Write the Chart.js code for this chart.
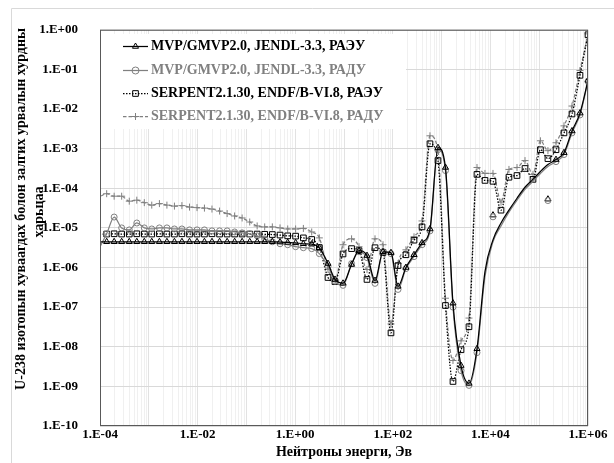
<!DOCTYPE html>
<html>
<head>
<meta charset="utf-8">
<script src="https://cdn.jsdelivr.net/npm/chart.js@4.4.1/dist/chart.umd.min.js"></script>
<style>
html, body { margin: 0; padding: 0; background: #fff; }
</style>
</head>
<body>
<canvas id="rates" width="614" height="463"></canvas>
<script>
// neutron energy, eV (first point sits just left of the axis so the lines start at the edge)
var energy = [8.5e-5, 1.37e-4, 1.95e-4, 2.78e-4, 3.98e-4, 5.68e-4, 8.09e-4, 1.15e-3, 1.65e-3, 2.35e-3,
  3.35e-3, 4.77e-3, 6.82e-3, 9.73e-3, 1.38e-2, 1.97e-2, 2.82e-2, 4.03e-2, 5.73e-2, 8.17e-2,
  0.117, 0.166, 0.237, 0.340, 0.489, 0.702, 1.02, 1.47, 2.18, 3.12,
  4.70, 6.54, 9.55, 14.3, 20.3, 29.6, 43.2, 63.0, 91.8, 128,
  186, 272, 397, 578, 843, 1.20e3, 1.71e3, 2.50e3, 3.64e3, 5.31e3,
  7.74e3, 1.13e4, 1.65e4, 2.40e4, 3.51e4, 5.12e4, 7.46e4, 1.06e5, 1.51e5, 2.21e5,
  3.22e5, 4.70e5, 6.85e5, 1.0e6];

// MVP/GMVP2.0, JENDL-3.3, РАЭУ
var mvpRaeu = [4.47e-6, 4.47e-6, 4.47e-6, 4.47e-6, 4.47e-6, 4.47e-6, 4.47e-6, 4.47e-6, 4.47e-6, 4.47e-6,
  4.47e-6, 4.47e-6, 4.47e-6, 4.47e-6, 4.47e-6, 4.47e-6, 4.47e-6, 4.47e-6, 4.47e-6, 4.47e-6,
  4.47e-6, 4.47e-6, 4.47e-6, 4.47e-6, 4.4e-6, 4.3e-6, 4.2e-6, 3.98e-6, 3.9e-6, 3.16e-6,
  1.26e-6, 5.0e-7, 4.0e-7, 1.19e-6, 2.66e-6, 2.0e-6, 4.7e-7, 2.5e-6, 2.37e-6, 3.35e-7,
  1.0e-6, 2.1e-6, 4.2e-6, 9.4e-6, 1.06e-3, 3.35e-4, 1.26e-7, 3.35e-9, 1.19e-9, 8.9e-9,
  7.9e-7, 5.0e-6, 1.33e-5, 2.8e-5, 5.6e-5, 1.06e-4, 1.68e-4, 2.66e-4, 3.98e-4, 5.3e-4,
  7.9e-4, 2.8e-3, 7.9e-3, 5.3e-2];

// MVP/GMVP2.0, JENDL-3.3, РАДУ
var mvpRadu = [2.3e-6, 7.08e-6, 1.88e-5, 1.0e-5, 8.9e-6, 1.33e-5, 1.0e-5, 9.4e-6, 1.0e-5, 1.0e-5,
  9.4e-6, 9.4e-6, 8.9e-6, 8.9e-6, 8.9e-6, 8.4e-6, 8.4e-6, 8.4e-6, 7.9e-6, 7.5e-6,
  7.08e-6, 6.3e-6, 5.3e-6, 4.47e-6, 3.98e-6, 3.76e-6, 3.35e-6, 3.16e-6, 2.99e-6, 2.24e-6,
  1.06e-6, 4.5e-7, 3.55e-7, 1.26e-6, 2.5e-6, 1.78e-6, 3.98e-7, 2.5e-6, 2.24e-6, 2.8e-7,
  9.4e-7, 1.88e-6, 3.76e-6, 8.4e-6, 9.4e-4, 2.8e-4, 1.0e-7, 2.5e-9, 1.06e-9, 7.1e-9,
  6.0e-7, 4.47e-6, 1.12e-5, 2.5e-5, 5.0e-5, 9.4e-5, 1.5e-4, 2.37e-4, 3.55e-4, 4.7e-4,
  7.1e-4, 2.5e-3, 7.1e-3, 5.0e-2];

// SERPENT2.1.30, ENDF/B-VI.8, РАЭУ
var serpRaeu = [7.0e-6, 7.0e-6, 7.1e-6, 7.0e-6, 7.0e-6, 7.1e-6, 7.0e-6, 7.0e-6, 7.1e-6, 7.0e-6,
  7.0e-6, 7.1e-6, 7.0e-6, 7.0e-6, 7.0e-6, 7.1e-6, 7.0e-6, 7.0e-6, 7.0e-6, 7.0e-6,
  7.0e-6, 7.0e-6, 6.9e-6, 6.8e-6, 6.6e-6, 6.3e-6, 6.2e-6, 5.6e-6, 5.1e-6, 3.2e-6,
  5.6e-7, 4.4e-7, 2.2e-6, 3.0e-6, 2.66e-6, 5.0e-7, 3.16e-6, 2.4e-6, 2.24e-8, 1.12e-6,
  2.1e-6, 4.9e-6, 1.06e-5, 1.33e-3, 5.0e-4, 1.1e-7, 1.33e-9, 8.4e-9, 3.2e-8, 2.24e-4,
  1.58e-4, 1.5e-4, 2.8e-5, 1.9e-4, 2.1e-4, 3.16e-4, 1.68e-4, 9.4e-4, 5.6e-4, 9.4e-4,
  2.5e-3, 7.5e-3, 7.1e-2, 0.75];

// SERPENT2.1.30, ENDF/B-VI.8, РАДУ
var serpRadu = [5.4e-5, 7.29e-5, 6.31e-5, 6.31e-5, 4.73e-5, 5.01e-5, 4.34e-5, 3.76e-5, 4.10e-5, 3.76e-5,
  3.55e-5, 3.65e-5, 3.35e-5, 3.25e-5, 3.16e-5, 2.99e-5, 2.66e-5, 2.30e-5, 2.0e-5, 1.78e-5,
  1.41e-5, 1.12e-5, 1.06e-5, 1.06e-5, 1.0e-5, 9.4e-6, 9.4e-6, 9.7e-6, 7.9e-6, 5.6e-6,
  8.9e-7, 4.5e-7, 3.76e-6, 5.3e-6, 3.35e-6, 8.9e-7, 5.3e-6, 3.76e-6, 3.76e-8, 1.26e-6,
  2.8e-6, 5.96e-6, 1.5e-5, 2.11e-3, 8.9e-4, 1.68e-7, 4.5e-9, 1.41e-8, 5.3e-8, 3.35e-4,
  2.37e-4, 2.37e-4, 4.47e-5, 2.99e-4, 3.35e-4, 5.0e-4, 2.24e-4, 1.58e-3, 8.9e-4, 1.41e-3,
  3.76e-3, 1.19e-2, 9.4e-2, 0.79];

// stray MVP points that sit off the curve
var strayEnergy = [1.13e4, 1.51e5];
var strayRaeu = [2.1e-5, 5.3e-5];
var strayRadu = [1.9e-5, 4.9e-5];

var seriesNames = ["MVP/GMVP2.0, JENDL-3.3, РАЭУ", "MVP/GMVP2.0, JENDL-3.3, РАДУ",
  "SERPENT2.1.30, ENDF/B-VI.8, РАЭУ", "SERPENT2.1.30, ENDF/B-VI.8, РАДУ"];

var xLabelValues = [1e-4, 1e-2, 1e0, 1e2, 1e4, 1e6];
var xTickLabels = ["1.E-04", "1.E-02", "1.E+00", "1.E+02", "1.E+04", "1.E+06"];
var yTickValues = [1e-10, 1e-9, 1e-8, 1e-7, 1e-6, 1e-5, 1e-4, 1e-3, 1e-2, 1e-1, 1e0];
var yTickLabels = ["1.E-10", "1.E-09", "1.E-08", "1.E-07", "1.E-06", "1.E-05", "1.E-04", "1.E-03", "1.E-02", "1.E-01", "1.E+00"];

var xTitle = "Нейтроны энерги, Эв";
var yTitle = ["U-238 изотопын хуваагдах болон залгих урвалын хурдны", "харьцаа"];

// minor grid for the energy axis: 1..9 in every decade
var xGrid = [];
for (var n = -4; n <= 5; n++) {
  for (var d = 1; d <= 9; d++) xGrid.push(Number(d + "e" + n));
}
xGrid.push(1e6);

function pts(xs, ys) {
  return xs.map(function (e, i) { return {x: e, y: ys[i]}; });
}
function sameTick(a, b) {
  return Math.abs(Math.log10(a) - Math.log10(b)) < 1e-6;
}
// the MVP curves carry no markers in the smooth part between ~6 keV and ~200 keV
function mvpRadius(c) {
  var e = energy[c.dataIndex];
  return (e > 6e3 && e < 2e5) ? 0 : 3.5;
}

var FONT = "'Liberation Serif', 'Times New Roman', serif";
var BLACK = "#000000";
var GRAY = "#808080";
var clear = "rgba(0,0,0,0)";

function marker(ctx, style, r, x, y) {
  ctx.beginPath();
  if (style === "triangle") {
    ctx.moveTo(x, y - r);
    ctx.lineTo(x + 0.866 * r, y + 0.5 * r);
    ctx.lineTo(x - 0.866 * r, y + 0.5 * r);
    ctx.closePath();
  } else if (style === "rect") {
    var s = Math.SQRT1_2 * r;
    ctx.rect(x - s, y - s, 2 * s, 2 * s);
  } else if (style === "cross") {
    ctx.moveTo(x - r, y); ctx.lineTo(x + r, y);
    ctx.moveTo(x, y - r); ctx.lineTo(x, y + r);
  } else {
    ctx.arc(x, y, r, 0, Math.PI * 2);
  }
  ctx.stroke();
}

var decor = {
  id: "decor",
  beforeDraw: function (chart) {
    var ctx = chart.ctx;
    ctx.save();
    ctx.strokeStyle = "#d9d9d9";
    ctx.lineWidth = 1;
    ctx.beginPath();
    ctx.moveTo(11.5, 463); ctx.lineTo(11.5, 8.5); ctx.lineTo(614, 8.5);
    ctx.stroke();
    // y axis title
    ctx.fillStyle = BLACK;
    ctx.font = "bold 14px " + FONT;
    ctx.textAlign = "center";
    ctx.textBaseline = "middle";
    ctx.translate(21, 209);
    ctx.rotate(-Math.PI / 2);
    ctx.fillText(yTitle[0], 0, 0);
    ctx.fillText(yTitle[1], -3, 18);
    ctx.restore();
  },
  afterDatasetsDraw: function (chart) {
    var ctx = chart.ctx, a = chart.chartArea;
    ctx.save();
    // legend
    ctx.fillStyle = "#ffffff";
    ctx.fillRect(a.left + 1, 34, 406 - a.left - 1, 95);
    ctx.font = "bold 14px " + FONT;
    ctx.textBaseline = "middle";
    ctx.textAlign = "left";
    var rows = [46, 70, 93, 116];
    for (var i = 0; i < 4; i++) {
      var ds = chart.data.datasets[i];
      var y = rows[i] + 0.5;
      ctx.strokeStyle = ds.borderColor;
      ctx.lineWidth = ds.borderWidth;
      ctx.setLineDash(ds.borderDash || []);
      ctx.beginPath();
      ctx.moveTo(123, y); ctx.lineTo(148, y);
      ctx.stroke();
      ctx.setLineDash([]);
      ctx.lineWidth = 1;
      marker(ctx, ds.pointStyle, i === 2 ? 4 : 3.5, 135.5, y);
      ctx.fillStyle = ds.borderColor;
      ctx.fillText(seriesNames[i], 151, y);
    }
    // plot frame
    ctx.strokeStyle = "#595959";
    ctx.lineWidth = 1;
    ctx.strokeRect(a.left + 0.5, a.top + 0.5, a.right - a.left - 1, a.bottom - a.top - 1);
    ctx.restore();
  }
};

var common = {
  borderWidth: 1.25,
  pointBorderWidth: 1,
  pointBackgroundColor: clear,
  backgroundColor: clear,
  fill: false,
  cubicInterpolationMode: "monotone",
  clip: 0
};

var rateChart = new Chart("rates", {
  type: "line",
  data: {
    datasets: [
      Object.assign({}, common, {
        label: seriesNames[0], data: pts(energy, mvpRaeu),
        borderColor: BLACK, pointBorderColor: BLACK, pointStyle: "triangle", pointRadius: mvpRadius
      }),
      Object.assign({}, common, {
        label: seriesNames[1], data: pts(energy, mvpRadu),
        borderColor: GRAY, pointBorderColor: GRAY, pointStyle: "circle", pointRadius: function (c) { return mvpRadius(c) ? 3 : 0; }
      }),
      Object.assign({}, common, {
        label: seriesNames[2], data: pts(energy, serpRaeu),
        borderColor: BLACK, pointBorderColor: BLACK, pointStyle: "rect", pointRadius: 4, borderDash: [1.5, 1.5]
      }),
      Object.assign({}, common, {
        label: seriesNames[3], data: pts(energy, serpRadu),
        borderColor: GRAY, pointBorderColor: GRAY, pointStyle: "cross", pointRadius: 3.5, borderDash: [3.5, 2]
      }),
      Object.assign({}, common, {
        label: "", data: pts(strayEnergy, strayRadu), showLine: false,
        borderColor: GRAY, pointBorderColor: GRAY, pointStyle: "circle", pointRadius: 3
      }),
      Object.assign({}, common, {
        label: "", data: pts(strayEnergy, strayRaeu), showLine: false,
        borderColor: BLACK, pointBorderColor: BLACK, pointStyle: "triangle", pointRadius: 3.5
      })
    ]
  },
  options: {
    responsive: false,
    animation: false,
    devicePixelRatio: 1,
    events: [],
    layout: {padding: {left: 12, top: 26, right: 26, bottom: 0}},
    plugins: {legend: {display: false}, tooltip: {enabled: false}},
    scales: {
      x: {
        type: "logarithmic", min: 1e-4, max: 1e6,
        afterBuildTicks: function (s) { s.ticks = xGrid.map(function (v) { return {value: v}; }); },
        afterFit: function (s) { s.height = 37; },
        border: {display: false},
        grid: {
          drawTicks: false,
          color: function (c) {
            var v = c.tick ? c.tick.value : 0;
            return xGrid.indexOf(v) % 9 === 0 ? "#e2e2e2" : "#f0f0f0";
          }
        },
        ticks: {
          autoSkip: false, maxRotation: 0, padding: 1, color: BLACK,
          font: {family: FONT, size: 13, weight: "bold"},
          callback: function (v) {
            for (var i = 0; i < xLabelValues.length; i++) if (sameTick(v, xLabelValues[i])) return xTickLabels[i];
            return "";
          }
        },
        title: {display: true, text: xTitle, color: BLACK, padding: {top: 0, bottom: 2},
          font: {family: FONT, size: 14, weight: "bold"}}
      },
      y: {
        type: "logarithmic", min: 1e-10, max: 1,
        afterBuildTicks: function (s) { s.ticks = yTickValues.map(function (v) { return {value: v}; }); },
        afterFit: function (s) { s.width = 88; },
        border: {display: false},
        grid: {drawTicks: false, color: "#d9d9d9"},
        ticks: {
          autoSkip: false, padding: 22, color: BLACK,
          font: {family: FONT, size: 13, weight: "bold"},
          callback: function (v) {
            for (var i = 0; i < yTickValues.length; i++) if (sameTick(v, yTickValues[i])) return yTickLabels[i];
            return null;
          }
        }
      }
    }
  },
  plugins: [decor]
});
</script>
</body>
</html>
